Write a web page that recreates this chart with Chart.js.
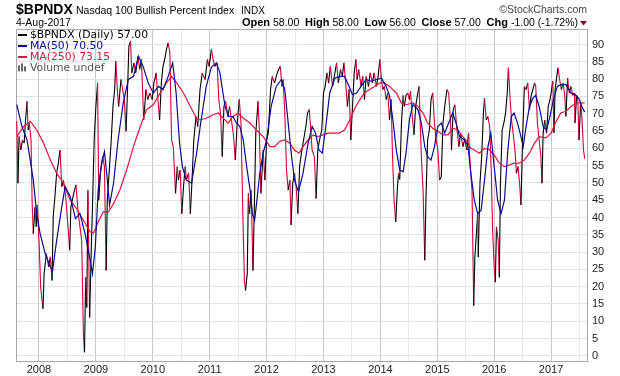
<!DOCTYPE html>
<html>
<head>
<meta charset="utf-8">
<script src="https://cdn.jsdelivr.net/npm/chart.js@4/dist/chart.umd.min.js"></script>
<style>
  html, body { margin: 0; padding: 0; background: #fff; }
</style>
</head>
<body>
<canvas id="chart__1" width="620" height="376"></canvas>
<script>
"use strict";

// $BPNDX daily close, sampled (decimal year, value)
const priceDates = [
  2007.61, 2007.63, 2007.65, 2007.68, 2007.71, 2007.74, 2007.76, 2007.79, 2007.81, 2007.83,
  2007.86, 2007.88, 2007.90, 2007.93, 2007.95, 2007.97, 2008.00, 2008.03, 2008.07, 2008.09,
  2008.13, 2008.17, 2008.20, 2008.23, 2008.25, 2008.28, 2008.31, 2008.34, 2008.37, 2008.40,
  2008.43, 2008.47, 2008.51, 2008.54, 2008.56, 2008.61, 2008.65, 2008.69, 2008.72, 2008.75,
  2008.78, 2008.80, 2008.82, 2008.84, 2008.86, 2008.89, 2008.92, 2008.94, 2008.97, 2009.00,
  2009.03, 2009.05, 2009.08, 2009.12, 2009.15, 2009.18, 2009.20, 2009.24, 2009.27, 2009.30,
  2009.33, 2009.35, 2009.38, 2009.40, 2009.44, 2009.47, 2009.50, 2009.53, 2009.56, 2009.58,
  2009.61, 2009.63, 2009.67, 2009.70, 2009.74, 2009.77, 2009.80, 2009.84, 2009.88, 2009.91,
  2009.95, 2009.99, 2010.02, 2010.06, 2010.09, 2010.12, 2010.15, 2010.18, 2010.22, 2010.24,
  2010.27, 2010.30, 2010.33, 2010.36, 2010.40, 2010.43, 2010.45, 2010.48, 2010.51, 2010.54,
  2010.57, 2010.59, 2010.63, 2010.66, 2010.69, 2010.72, 2010.76, 2010.79, 2010.83, 2010.87,
  2010.92, 2010.96, 2010.99, 2011.03, 2011.06, 2011.09, 2011.13, 2011.16, 2011.19, 2011.22,
  2011.25, 2011.28, 2011.32, 2011.35, 2011.39, 2011.42, 2011.45, 2011.48, 2011.52, 2011.55,
  2011.58, 2011.61, 2011.63, 2011.66, 2011.68, 2011.70, 2011.73, 2011.76, 2011.78, 2011.81,
  2011.85, 2011.87, 2011.90, 2011.94, 2011.97, 2012.00, 2012.03, 2012.07, 2012.10, 2012.14,
  2012.17, 2012.21, 2012.24, 2012.27, 2012.29, 2012.32, 2012.35, 2012.38, 2012.41, 2012.43,
  2012.46, 2012.49, 2012.52, 2012.55, 2012.58, 2012.62, 2012.65, 2012.69, 2012.72, 2012.75,
  2012.78, 2012.80, 2012.84, 2012.87, 2012.90, 2012.93, 2012.97, 2013.00, 2013.03, 2013.06,
  2013.09, 2013.12, 2013.16, 2013.19, 2013.23, 2013.26, 2013.30, 2013.33, 2013.36, 2013.39,
  2013.42, 2013.45, 2013.48, 2013.51, 2013.54, 2013.57, 2013.59, 2013.62, 2013.66, 2013.69,
  2013.72, 2013.75, 2013.79, 2013.82, 2013.86, 2013.89, 2013.93, 2013.96, 2013.99, 2014.02,
  2014.04, 2014.07, 2014.10, 2014.13, 2014.16, 2014.19, 2014.21, 2014.24, 2014.27, 2014.30,
  2014.32, 2014.34, 2014.37, 2014.40, 2014.42, 2014.45, 2014.48, 2014.51, 2014.53, 2014.56,
  2014.59, 2014.62, 2014.65, 2014.68, 2014.70, 2014.72, 2014.75, 2014.78, 2014.80, 2014.83,
  2014.86, 2014.89, 2014.92, 2014.95, 2014.98, 2015.01, 2015.04, 2015.07, 2015.10, 2015.13,
  2015.17, 2015.20, 2015.23, 2015.25, 2015.28, 2015.31, 2015.34, 2015.38, 2015.41, 2015.45,
  2015.48, 2015.52, 2015.55, 2015.58, 2015.61, 2015.64, 2015.66, 2015.68, 2015.71, 2015.72,
  2015.75, 2015.78, 2015.81, 2015.83, 2015.86, 2015.89, 2015.92, 2015.95, 2015.97, 2016.00,
  2016.02, 2016.04, 2016.07, 2016.09, 2016.11, 2016.14, 2016.17, 2016.20, 2016.23, 2016.25,
  2016.28, 2016.31, 2016.34, 2016.37, 2016.39, 2016.42, 2016.45, 2016.47, 2016.50, 2016.53,
  2016.56, 2016.59, 2016.62, 2016.65, 2016.68, 2016.71, 2016.73, 2016.76, 2016.79, 2016.82,
  2016.84, 2016.86, 2016.89, 2016.92, 2016.95, 2016.98, 2017.00, 2017.03, 2017.05, 2017.07,
  2017.10, 2017.12, 2017.15, 2017.18, 2017.21, 2017.24, 2017.26, 2017.29, 2017.32, 2017.35,
  2017.38, 2017.41, 2017.42, 2017.45, 2017.47, 2017.49, 2017.52, 2017.54, 2017.57, 2017.59
];
const priceValues = [
  67.8, 49.9, 63.4, 59.5, 62.4, 61.5, 67.3, 73.6, 65.3, 67.3,
  62.4, 44.0, 35.3, 43.0, 37.3, 43.6, 33.4, 19.8, 13.6, 23.7,
  29.5, 25.7, 28.6, 21.8, 40.2, 46.0, 52.8, 55.7, 59.5, 48.9,
  50.8, 46.0, 37.3, 30.5, 43.0, 47.0, 49.4, 41.1, 37.3, 33.4,
  6.3, 1.0, 22.7, 14.0, 47.9, 11.1, 31.5, 43.0, 62.4, 72.1,
  78.9, 45.0, 52.8, 57.6, 54.7, 24.7, 45.0, 54.7, 62.4, 72.1,
  77.0, 85.2, 76.0, 72.1, 79.9, 77.0, 74.1, 64.9, 78.9, 89.5,
  91.0, 81.8, 84.7, 81.8, 86.6, 82.8, 85.7, 68.2, 77.0, 74.1,
  76.0, 74.1, 78.9, 81.8, 74.1, 68.2, 78.9, 83.7, 86.6, 88.6,
  90.5, 87.6, 62.4, 60.5, 47.0, 54.7, 50.8, 53.7, 41.1, 48.9,
  54.7, 50.8, 52.8, 41.1, 50.8, 62.4, 69.2, 66.3, 77.0, 81.8,
  79.9, 85.7, 83.7, 88.6, 85.7, 83.7, 84.7, 74.1, 70.2, 57.6,
  72.1, 73.6, 69.2, 72.1, 67.3, 63.4, 56.6, 66.3, 74.1, 67.3,
  43.1, 21.8, 18.9, 23.7, 47.0, 41.1, 47.9, 24.7, 39.2, 64.4,
  73.6, 66.3, 47.0, 59.5, 50.8, 62.4, 64.4, 77.0, 80.8, 78.9,
  80.8, 82.8, 83.7, 77.9, 79.9, 70.2, 53.7, 47.9, 50.8, 37.8,
  49.9, 52.8, 48.9, 41.1, 54.7, 59.5, 62.4, 66.3, 70.2, 71.2,
  64.4, 59.5, 57.6, 45.5, 59.5, 62.4, 65.3, 76.0, 77.9, 81.8,
  78.9, 83.7, 77.9, 80.8, 84.7, 78.9, 82.8, 80.8, 84.7, 78.9,
  72.1, 77.0, 62.4, 72.1, 81.8, 85.7, 79.9, 82.8, 77.9, 80.8,
  74.1, 80.8, 77.9, 81.8, 78.9, 81.8, 77.9, 80.8, 85.7, 79.9,
  77.0, 77.9, 74.1, 76.0, 68.2, 74.1, 59.5, 45.0, 38.7, 48.9,
  52.8, 51.0, 67.3, 75.3, 72.1, 75.3, 76.0, 74.1, 76.5, 69.2,
  63.9, 72.1, 75.3, 77.9, 67.3, 57.6, 47.9, 27.6, 45.0, 62.4,
  65.3, 74.1, 76.0, 67.3, 62.4, 59.5, 50.8, 51.8, 67.3, 72.1,
  77.0, 76.0, 68.2, 59.5, 71.2, 72.6, 66.3, 60.5, 64.4, 60.5,
  62.4, 59.5, 64.4, 54.7, 47.9, 14.5, 28.6, 33.4, 41.1, 28.6,
  49.9, 57.6, 70.2, 74.5, 68.2, 69.2, 66.3, 52.8, 37.3, 25.7,
  21.3, 37.3, 33.4, 22.7, 49.9, 65.3, 67.3, 70.2, 76.0, 83.3,
  74.1, 67.3, 63.4, 58.6, 52.8, 54.7, 48.9, 43.6, 63.4, 77.9,
  77.0, 78.9, 71.2, 75.3, 77.0, 78.9, 77.9, 67.3, 62.4, 57.6,
  49.9, 64.4, 68.2, 64.4, 72.1, 74.1, 76.0, 79.4, 64.4, 77.0,
  80.8, 83.3, 79.9, 77.0, 78.9, 75.3, 69.2, 80.3, 76.0, 77.9,
  75.3, 76.0, 67.3, 75.3, 74.1, 62.4, 73.2, 69.2, 59.5, 57.0
];

// MA(50)
const ma50Dates = [
  2007.61, 2007.70, 2007.79, 2007.90, 2007.96, 2008.02, 2008.11, 2008.20, 2008.24, 2008.31,
  2008.40, 2008.46, 2008.55, 2008.64, 2008.72, 2008.81, 2008.90, 2008.94, 2008.99, 2009.04,
  2009.10, 2009.15, 2009.19, 2009.24, 2009.31, 2009.39, 2009.48, 2009.57, 2009.66, 2009.75,
  2009.83, 2009.92, 2010.01, 2010.10, 2010.18, 2010.27, 2010.35, 2010.41, 2010.47, 2010.52,
  2010.59, 2010.68, 2010.77, 2010.83, 2010.94, 2011.03, 2011.12, 2011.18, 2011.27, 2011.33,
  2011.41, 2011.47, 2011.53, 2011.59, 2011.65, 2011.71, 2011.75, 2011.79, 2011.83, 2011.88,
  2011.94, 2012.00, 2012.08, 2012.17, 2012.26, 2012.32, 2012.38, 2012.44, 2012.49, 2012.56,
  2012.64, 2012.73, 2012.80, 2012.86, 2012.92, 2012.98, 2013.04, 2013.11, 2013.20, 2013.28,
  2013.37, 2013.45, 2013.51, 2013.58, 2013.66, 2013.75, 2013.84, 2013.93, 2014.02, 2014.10,
  2014.16, 2014.22, 2014.28, 2014.34, 2014.40, 2014.45, 2014.51, 2014.57, 2014.66, 2014.72,
  2014.78, 2014.83, 2014.89, 2014.95, 2015.01, 2015.07, 2015.13, 2015.20, 2015.27, 2015.33,
  2015.39, 2015.48, 2015.54, 2015.59, 2015.65, 2015.71, 2015.77, 2015.83, 2015.89, 2015.94,
  2016.00, 2016.06, 2016.12, 2016.18, 2016.24, 2016.30, 2016.35, 2016.41, 2016.47, 2016.51,
  2016.56, 2016.62, 2016.68, 2016.73, 2016.79, 2016.86, 2016.92, 2016.98, 2017.04, 2017.11,
  2017.17, 2017.26, 2017.35, 2017.44, 2017.50, 2017.54, 2017.59
];
const ma50Values = [
  72.6, 66.3, 62.4, 50.8, 41.1, 35.3, 29.5, 25.7, 24.7, 33.4,
  43.0, 48.9, 46.0, 39.7, 41.1, 35.3, 27.6, 23.7, 31.5, 47.9,
  55.7, 59.0, 52.8, 43.6, 49.9, 62.4, 73.1, 79.9, 80.8, 86.6,
  83.7, 78.9, 76.0, 77.9, 77.0, 80.8, 84.7, 76.0, 61.5, 54.7,
  50.8, 49.9, 58.6, 66.0, 78.0, 83.5, 84.7, 81.8, 72.1, 69.2,
  69.2, 67.3, 66.3, 62.4, 54.7, 47.9, 41.1, 39.2, 45.0, 52.8,
  58.6, 62.4, 72.1, 77.9, 79.9, 77.0, 67.3, 57.6, 50.8, 47.4,
  52.8, 61.5, 66.3, 64.4, 59.5, 58.6, 66.3, 76.0, 80.3, 80.8,
  80.8, 77.9, 75.5, 76.0, 77.9, 79.9, 79.4, 79.9, 80.3, 77.9,
  75.3, 68.2, 59.5, 53.7, 53.2, 58.6, 68.2, 72.6, 71.2, 67.3,
  60.5, 57.6, 56.6, 60.5, 66.3, 67.3, 64.4, 67.3, 70.2, 67.3,
  63.4, 62.4, 60.5, 52.8, 45.0, 41.1, 42.1, 50.8, 60.5, 64.4,
  54.7, 45.0, 41.1, 45.0, 59.5, 69.2, 70.2, 67.3, 63.4, 60.5,
  66.3, 72.1, 74.5, 75.3, 72.1, 66.3, 65.3, 69.2, 74.1, 77.9,
  78.4, 78.4, 76.0, 75.3, 74.1, 72.1, 70.5
];

// MA(250)
const ma250Dates = [
  2007.61, 2007.73, 2007.85, 2007.96, 2008.08, 2008.20, 2008.31, 2008.43, 2008.55, 2008.66,
  2008.78, 2008.90, 2008.96, 2009.04, 2009.13, 2009.22, 2009.31, 2009.42, 2009.54, 2009.66,
  2009.78, 2009.89, 2010.01, 2010.13, 2010.24, 2010.33, 2010.42, 2010.54, 2010.66, 2010.77,
  2010.83, 2010.94, 2011.06, 2011.15, 2011.24, 2011.32, 2011.41, 2011.50, 2011.59, 2011.71,
  2011.82, 2011.94, 2012.06, 2012.14, 2012.23, 2012.32, 2012.41, 2012.49, 2012.57, 2012.64,
  2012.73, 2012.82, 2012.90, 2012.99, 2013.08, 2013.17, 2013.28, 2013.37, 2013.46, 2013.55,
  2013.64, 2013.72, 2013.81, 2013.90, 2013.99, 2014.07, 2014.16, 2014.28, 2014.37, 2014.45,
  2014.57, 2014.66, 2014.75, 2014.83, 2014.92, 2015.01, 2015.10, 2015.19, 2015.27, 2015.36,
  2015.45, 2015.54, 2015.59, 2015.65, 2015.74, 2015.83, 2015.92, 2016.00, 2016.09, 2016.18,
  2016.27, 2016.35, 2016.44, 2016.53, 2016.62, 2016.71, 2016.79, 2016.91, 2017.00, 2017.09,
  2017.17, 2017.26, 2017.35, 2017.44, 2017.52, 2017.59
];
const ma250Values = [
  63.4, 66.3, 67.8, 65.3, 61.5, 56.6, 52.8, 49.9, 45.0, 42.6,
  39.2, 35.8, 35.5, 38.7, 41.6, 41.6, 44.0, 47.9, 53.7, 60.5,
  66.3, 71.2, 72.6, 76.0, 78.9, 80.8, 78.9, 76.0, 72.1, 68.7,
  68.2, 68.7, 69.7, 70.2, 68.7, 67.3, 69.2, 70.2, 68.7, 67.3,
  65.3, 63.4, 60.5, 60.5, 62.0, 62.4, 61.5, 59.5, 58.6, 60.5,
  62.4, 63.9, 63.4, 63.9, 64.4, 64.4, 64.4, 65.3, 68.2, 71.6,
  74.1, 76.0, 77.0, 77.9, 78.9, 78.9, 77.9, 76.0, 73.1, 72.6,
  73.1, 72.1, 70.2, 67.3, 65.8, 64.9, 63.9, 63.9, 65.8, 65.3,
  63.4, 61.5, 60.0, 59.5, 58.6, 60.0, 59.5, 58.1, 55.7, 54.7,
  55.2, 55.7, 55.7, 56.6, 58.6, 61.5, 63.4, 63.0, 64.4, 67.8,
  70.2, 70.7, 72.1, 73.1, 73.1, 73.15
];

const yearLabels = ["2008", "2009", "2010", "2011", "2012", "2013", "2014", "2015", "2016", "2017"];

const legendRows = [
  { text: "$BPNDX (Daily) 57.00", color: "#000000", mark: "line" },
  { text: "MA(50) 70.50", color: "#0b0b8f", mark: "line" },
  { text: "MA(250) 73.15", color: "#d9163f", mark: "line" },
  { text: "Volume undef", color: "#555555", mark: "bars" },
];

const quoteParts = [
  ["Open", true], [" 58.00  ", false],
  ["High", true], [" 58.00  ", false],
  ["Low", true], [" 56.00  ", false],
  ["Close", true], [" 57.00  ", false],
  ["Chg", true], [" -1.00 (-1.72%)", false],
];

const PRICE_UP = "#000000";
const PRICE_DOWN = "#d4003b";
const SANS = "'Liberation Sans', Arial, sans-serif";

function toPoints(xs, ys) {
  return xs.map((x, i) => ({ x: x, y: ys[i] }));
}

function isWholeYear(v) {
  return Math.abs(v - Math.round(v)) < 0.01;
}

const headerPlugin = {
  id: "header",
  beforeDatasetsDraw(chart) {
    const c = chart.ctx;
    const a = chart.chartArea;
    c.save();
    c.strokeStyle = "#a8a8a8";
    c.lineWidth = 1;
    c.beginPath();
    c.moveTo(a.left + 0.5, a.bottom);
    c.lineTo(a.left + 0.5, a.top + 0.5);
    c.lineTo(a.right, a.top + 0.5);
    c.stroke();
    c.restore();
  },
  afterDraw(chart) {
    const c = chart.ctx;
    const a = chart.chartArea;
    c.save();
    c.textBaseline = "middle";

    // title line
    c.fillStyle = "#000";
    c.textAlign = "left";
    c.font = "bold 14px " + SANS;
    c.fillText("$BPNDX", 16, 10);
    c.font = "10.5px " + SANS;
    c.fillText("Nasdaq 100 Bullish Percent Index", 76, 11);
    c.font = "10px " + SANS;
    c.fillText("INDX", 241, 11);
    c.fillStyle = "#444";
    c.textAlign = "right";
    c.font = "10.5px " + SANS;
    c.fillText("\u00A9StockCharts.com", a.right, 10);

    // second line
    c.textAlign = "left";
    c.fillStyle = "#000";
    c.font = "10.5px " + SANS;
    c.fillText("4-Aug-2017", 16, 23);

    const fontFor = (b) => (b ? "bold 11px " : "10.5px ") + SANS;
    let total = 0;
    quoteParts.forEach(([t, b]) => {
      c.font = fontFor(b);
      total += c.measureText(t).width;
    });
    let x = a.right - 9 - total;
    quoteParts.forEach(([t, b]) => {
      c.font = fontFor(b);
      c.fillText(t, x, 23);
      x += c.measureText(t).width;
    });
    c.fillStyle = "#8c0a2a";
    c.beginPath();
    c.moveTo(a.right - 7, 21);
    c.lineTo(a.right, 21);
    c.lineTo(a.right - 3.5, 25.5);
    c.closePath();
    c.fill();

    // legend inside plot
    c.font = "10.8px 'DejaVu Sans', Verdana, sans-serif";
    legendRows.forEach((row, i) => {
      const y = a.top + 6 + i * 10.8;
      if (row.mark === "line") {
        c.fillStyle = row.color;
        c.fillRect(a.left + 2, Math.round(y) - 1, 9, 2);
      } else {
        c.fillStyle = "#666";
        c.fillRect(a.left + 2, y - 2, 2, 6);
        c.fillRect(a.left + 5, y - 4, 2, 8);
        c.fillRect(a.left + 8, y - 1, 2, 5);
      }
      c.fillStyle = row.color;
      c.fillText(row.text, a.left + 14, y + 0.5);
    });
    c.restore();
  },
};

const chartSelector__1 = document.getElementById("chart__1").getContext("2d");

const chartConfig = {
  type: "line",
  data: {
    datasets: [
      {
        label: "$BPNDX",
        data: toPoints(priceDates, priceValues),
        borderColor: PRICE_UP,
        borderWidth: 1.1,
        segment: {
          borderColor: (ctx) => (ctx.p1.parsed.y < ctx.p0.parsed.y ? PRICE_DOWN : PRICE_UP),
        },
        order: 3,
      },
      {
        label: "MA(250)",
        data: toPoints(ma250Dates, ma250Values),
        borderColor: "#d9163f",
        borderWidth: 1.2,
        order: 2,
      },
      {
        label: "MA(50)",
        data: toPoints(ma50Dates, ma50Values),
        borderColor: "#0b0b8f",
        borderWidth: 1.2,
        order: 1,
      },
    ],
  },
  options: {
    responsive: false,
    devicePixelRatio: 1,
    animation: false,
    events: [],
    layout: { padding: { left: 16, top: 29, right: 0, bottom: 0 } },
    datasets: { line: { pointRadius: 0, tension: 0, fill: false } },
    plugins: { legend: { display: false }, tooltip: { enabled: false } },
    scales: {
      x: {
        type: "linear",
        min: 2007.596,
        max: 2017.631,
        afterFit: (scale) => { scale.height = 15; },
        border: { display: true, color: "#a8a8a8" },
        grid: {
          drawTicks: false,
          color: (ctx) => (ctx.tick && isWholeYear(ctx.tick.value) ? "#c8c8c8" : "#e6e6e6"),
        },
        ticks: {
          stepSize: 0.5,
          includeBounds: false,
          autoSkip: false,
          maxRotation: 0,
          padding: 2,
          color: "#222",
          font: { family: SANS, size: 11 },
          callback: (v) => {
            const lbl = String(Math.round(v));
            return isWholeYear(v) && yearLabels.includes(lbl) ? lbl : "";
          },
        },
      },
      y: {
        position: "right",
        min: -1.5,
        max: 94.5,
        afterFit: (scale) => { scale.width = 33; },
        border: { display: true, color: "#a8a8a8" },
        grid: { drawTicks: false, color: "#e2e2e2" },
        ticks: {
          stepSize: 5,
          includeBounds: false,
          padding: 5,
          color: "#222",
          font: { family: SANS, size: 11 },
        },
      },
    },
  },
  plugins: [headerPlugin],
};

const chart__1 = new Chart(chartSelector__1, chartConfig);
</script>
</body>
</html>
